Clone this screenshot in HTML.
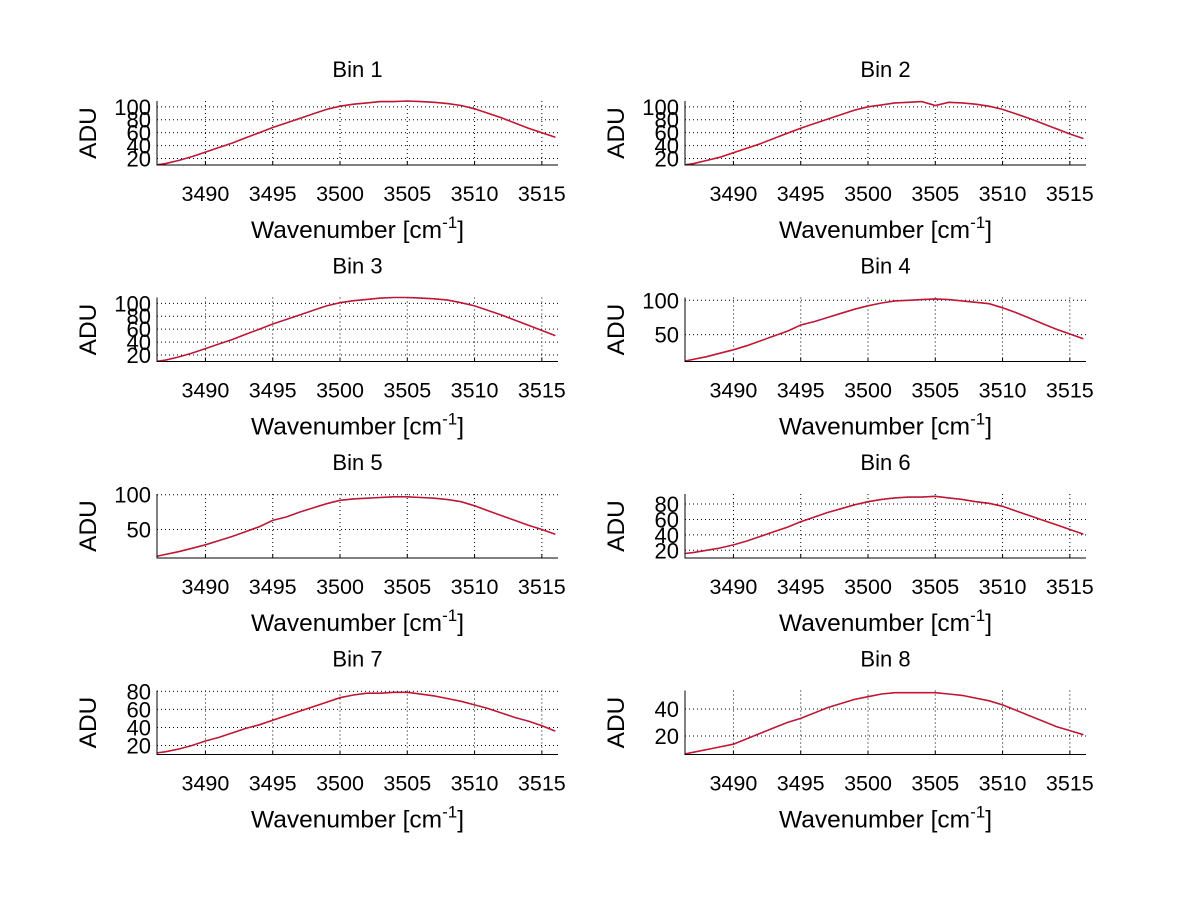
<!DOCTYPE html>
<html><head><meta charset="utf-8"><style>
html,body{margin:0;padding:0;background:#fff;}
svg{display:block;font-family:"Liberation Sans",sans-serif;}
</style></head><body>
<svg id="fig" width="1200" height="901" viewBox="0 0 1200 901" xmlns="http://www.w3.org/2000/svg"></svg>
<script>
const wavenumbers=[3486,3487,3488,3489,3490,3491,3492,3493,3494,3495,3496,3497,3498,3499,3500,3501,3502,3503,3504,3505,3506,3507,3508,3509,3510,3511,3512,3513,3514,3515,3516];
const bin1=[9,12,17,23,30,37,44,52,60,68,75,82,89,96,101,104,106,108,108,109,108,107,105,102,97,90,83,75,67,60,53];
const bin2=[9,12,17,22,29,36,43,51,59,67,74,81,88,95,100,103,106,107,108,102,107,106,104,101,96,89,82,74,66,58,51];
const bin3=[9,12,17,23,30,37,44,52,60,68,75,82,89,96,101,104,106,108,109,109,108,107,105,101,96,89,82,74,66,58,50];
const bin4=[10,14,18,23,28,34,41,48,55,64,69,75,81,87,92,96,99,100,101,102,101,99,97,95,89,82,74,66,58,51,44];
const bin5=[10,14,18,23,28,34,40,47,54,63,68,75,81,87,92,94,95,96,97,97,96,95,93,90,84,77,70,63,56,50,43];
const bin6=[15,17,20,23,27,32,38,44,50,57,63,69,74,79,83,86,88,89,89,90,88,86,83,81,77,71,65,59,53,47,41];
const bin7=[11,13,16,20,25,29,34,39,43,48,53,58,63,68,73,76,78,78,79,79,77,75,72,69,65,61,56,51,47,42,36];
const bin8=[6,8,10,12,14,18,22,26,30,33,37,41,44,47,49,51,52,52,52,52,51,50,48,46,43,39,35,31,27,24,21];
const binSeries=[bin1,bin2,bin3,bin4,bin5,bin6,bin7,bin8];
const binTitles=["Bin 1","Bin 2","Bin 3","Bin 4","Bin 5","Bin 6","Bin 7","Bin 8"];
const xTicks=[3490,3495,3500,3505,3510,3515];
const yTicksA=[20,40,60,80,100];
const yTicksB=[50,100];
const yTicks6=[20,40,60,80];
const yTicks8=[20,40];
const yTickSets=[yTicksA,yTicksA,yTicksA,yTicksB,yTicksB,yTicks6,yTicks6,yTicks8];
const yLimits=[[10,109],[10,109],[10,109],[11,104],[9,101],[10,93],[10,81],[6.4,53.6]];
const xLimits=[3486.4,3516.2];

const NS="http://www.w3.org/2000/svg";
const svg=document.getElementById('fig');
function mk(tag,attrs,parent){const e=document.createElementNS(NS,tag);for(const k in attrs)e.setAttribute(k,attrs[k]);(parent||svg).appendChild(e);return e;}

for(let i=0;i<8;i++){
  const col=i%2,row=Math.floor(i/2);
  const L=col?685:157,R=col?1086:558;
  const T=101+196.5*row,B=T+64;
  const g=mk('g',{});
  
  
  const [y0,y1]=yLimits[i];
  const sx=v=>L+(v-xLimits[0])/(xLimits[1]-xLimits[0])*(R-L);
  const sy=v=>B-(v-y0)/(y1-y0)*(B-T);
  const cp=mk('clipPath',{id:'cp'+i},g);
  mk('rect',{x:L,y:T-2,width:R-L,height:B-T+2},cp);
  xTicks.forEach(t=>{
    const x=sx(t);
    const gl=mk('line',{x1:x,y1:T,x2:x,y2:B,stroke:'#000','stroke-width':1,'stroke-dasharray':'1,3'},g);
    
    
    mk('line',{x1:x,y1:B,x2:x,y2:B-4,stroke:'#000','stroke-width':1},g);
    const tl=mk('text',{x:x,y:B+36,'font-size':21.5,'text-anchor':'middle',fill:'#000'},g);
    tl.textContent=t;
    
    
  });
  yTickSets[i].forEach(t=>{
    const y=sy(t);
    const gl=mk('line',{x1:L,y1:y,x2:R,y2:y,stroke:'#000','stroke-width':1,'stroke-dasharray':'1,3'},g);
    
    
    const tl=mk('text',{x:L-6,y:y+8,'font-size':22,'text-anchor':'end',fill:'#000'},g);
    tl.textContent=t;
    
    
  });
  const pts=wavenumbers.map((w,k)=>sx(w).toFixed(1)+','+sy(binSeries[i][k]).toFixed(1)).join(' ');
  const pb=mk('polyline',{points:pts,fill:'none',stroke:'#3050c0','stroke-width':1.6,'clip-path':'url(#cp'+i+')'},g);
  
  
  const pr=mk('polyline',{points:pts,fill:'none',stroke:'#ff0000','stroke-width':1.1,'clip-path':'url(#cp'+i+')'},g);
  
  
  const ax=mk('path',{d:`M${L},${T}V${B}H${R}`,fill:'none',stroke:'#000','stroke-width':1},g);
  
  
  const ti=mk('text',{x:(L+R)/2,y:T-24,'font-size':22,'text-anchor':'middle',fill:'#000'},g);
  ti.textContent=binTitles[i];
  
  
  const xl=mk('text',{x:(L+R)/2,y:B+73,'font-size':24.5,'text-anchor':'middle',fill:'#000'},g);
  xl.innerHTML='Wavenumber [cm<tspan dy="-10" font-size="17">-1</tspan><tspan dy="10">]</tspan>';
  
  
  const lx=L-61,ly=(T+B)/2;
  const yl=mk('text',{x:lx,y:ly,'font-size':24.5,'text-anchor':'middle',fill:'#000',transform:`rotate(-90 ${lx} ${ly})`},g);
  yl.textContent='ADU';
  
  
}
</script>
</body></html>
